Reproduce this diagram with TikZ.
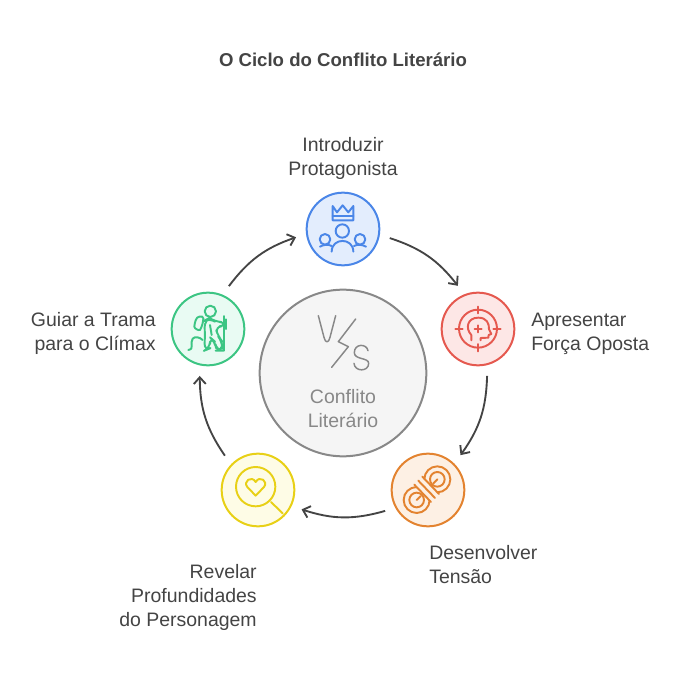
\documentclass[tikz,border=0pt]{standalone}
\usepackage{fontspec}
\setmainfont{Liberation Sans}
\usetikzlibrary{arrows.meta}
\definecolor{ink}{HTML}{444444}
\definecolor{gr}{HTML}{888888}
\definecolor{bS}{HTML}{4A86E8}\definecolor{bF}{HTML}{E3EDFD}
\definecolor{rS}{HTML}{E5594F}\definecolor{rF}{HTML}{FDE7E6}
\definecolor{oS}{HTML}{E38330}\definecolor{oF}{HTML}{FDF0E4}
\definecolor{yS}{HTML}{E8D016}\definecolor{yF}{HTML}{FEFCE6}
\definecolor{gS}{HTML}{3CC583}\definecolor{gF}{HTML}{E9FBF3}
\tikzset{
  stage/.style={circle,draw=#1S,fill=#1F,line width=1.5pt,minimum size=54.5pt,inner sep=0pt,outer sep=8.5pt},
  hub/.style={circle,draw=gr,fill=black!4,line width=1.5pt,minimum size=125pt,inner sep=0pt},
  lab/.style={text=ink,font=\fontsize{14.6}{18}\selectfont,inner sep=0pt},
  cyc/.style={draw=ink,line width=1.4pt,-{Straight Barb[length=5pt,width=9pt,line width=1.4pt]},bend left=17},
  ic/.style={line width=1.45pt,line cap=round,line join=round,draw=#1}
}
\begin{document}
\begin{tikzpicture}[x=.75pt,y=.75pt]
\useasboundingbox (0,0) rectangle (686,687);
\node[text=ink,font=\bfseries\fontsize{13.95}{18}\selectfont,inner sep=0pt] (title) at (343,627) {O Ciclo do Conflito Literário};
\node[hub] (hub) at (343,314) {};
\node[stage=b] (blue) at (343,458) {};
\node[stage=r] (red) at (478,358) {};
\node[stage=o] (orange) at (428,197) {};
\node[stage=y] (yellow) at (258,197) {};
\node[stage=g] (green) at (208,358) {};
\node[lab,text=gr,align=center] (hubt) at (343,278) {Conflito\\Literário};
\node[lab,align=center] (l1) at (343,528.5) {Introduzir\\Protagonista};
\node[lab,align=left,anchor=west] (l2) at (531,353.5) {Apresentar\\Força Oposta};
\node[lab,align=left,anchor=west] (l3) at (429,122) {Desenvolver\\Tensão};
\node[lab,align=right,anchor=east] (l4) at (257,90) {Revelar\\Profundidades\\do Personagem};
\node[lab,align=right,anchor=east] (l5) at (156,354) {Guiar a Trama\\para o Clímax};
\draw[cyc] (blue.-11) to (red.115);
\draw[cyc] (red.-79) to (orange.47);
\draw[cyc] (orange.206) to (yellow.-24);
\draw[cyc] (yellow.134) to (green.260);
\draw[cyc] (green.64) to (blue.190);
% hub icon
\begin{scope}[shift={(250,407)},x=.25pt,y=-.25pt,ic=gr,line width=1.1pt]
\draw (205,107) -- (222,172) .. controls (226,190) and (236,190) .. (240,172) -- (257,107);
\draw (317,117) -- (265,185) -- (295,200) -- (245,262);
\draw (354,212) .. controls (350,190) and (313,190) .. (313,218) .. controls (313,240) and (356,232) .. (356,250) .. controls (356,276) and (314,276) .. (312,250);
\end{scope}
% crown and people
\begin{scope}[shift={(290,507)},x=.25pt,y=-.25pt,ic=bS]
\draw (128,78) -- (141,97) -- (158,76) -- (175,97) -- (190,78) -- (190,121) -- (128,121) -- cycle;
\draw (128,108) -- (190,108);
\draw (157,153) circle[radius=20];
\draw (105,178) circle[radius=16];
\draw (210,178) circle[radius=16];
\draw (125,215) .. controls (125,172) and (190,172) .. (190,215);
\draw (90,200) .. controls (100,194) and (115,192) .. (125,198);
\draw (192,198) .. controls (202,192) and (218,194) .. (228,200);
\end{scope}
% target and head
\begin{scope}[shift={(430,407)},x=.25pt,y=-.25pt,ic=rS]
\draw (144,146) circle[radius=57];
\draw (144,80) -- (144,100) (144,192) -- (144,214) (76,146) -- (98,146) (190,146) -- (212,146);
\draw (134,146) -- (155,146) (144,136) -- (144,157);
\draw (124,181) -- (124,165) .. controls (105,145) and (112,113) .. (145,113) .. controls (170,113) and (178,130) .. (177,148) -- (184,162) -- (176,165) -- (175,173) -- (152,174) -- (152,181);
\end{scope}
% rope
\begin{scope}[shift={(380,247)},x=.25pt,y=-.25pt,ic=oS]
\draw (110,180) circle[radius=39];
\draw (172,118) circle[radius=39];
\draw (110,180) circle[radius=22];
\draw (172,118) circle[radius=22];
\draw (110,180) -- (122,168) (172,118) -- (160,130);
\fill[oF] (103,134) -- (127,110) -- (177,162) -- (153,186) -- cycle;
\draw (103,134) -- (153,186) (115,122) -- (165,174) (127,110) -- (177,162);
\end{scope}
% lens and heart
\begin{scope}[shift={(210,247)},x=.25pt,y=-.25pt,ic=yS]
\draw (137,140) circle[radius=59];
\draw (183,186) -- (218,220);
\draw (137,167) -- (112,141) .. controls (98,124) and (125,105) .. (137,126) .. controls (149,105) and (176,124) .. (162,141) -- cycle;
\end{scope}
% hiker
\begin{scope}[shift={(160,407)},x=.25pt,y=-.25pt,ic=gS]
\draw (151,94) circle[radius=17];
\draw (192,108) -- (192,212);
\draw[rounded corners=5pt] (133,122) -- (148,114) -- (165,125) -- (198,127) -- (198,138) -- (165,140) -- (175,170) -- (187,185) -- (187,212) -- (170,212) -- (165,185) -- (150,172) -- (150,205) -- (133,212) -- (135,165) -- cycle;
\draw (150,135) -- (155,165);
\draw (118,110) .. controls (108,110) and (104,128) .. (103,140) .. controls (103,146) and (116,152) .. (120,150) .. controls (126,140) and (130,125) .. (130,115) .. controls (130,110) and (124,108) .. (118,110) -- cycle;
\draw (85,210) .. controls (105,206) and (88,190) .. (98,176) .. controls (105,168) and (120,172) .. (128,180);
\end{scope}
\end{tikzpicture}
\end{document}
